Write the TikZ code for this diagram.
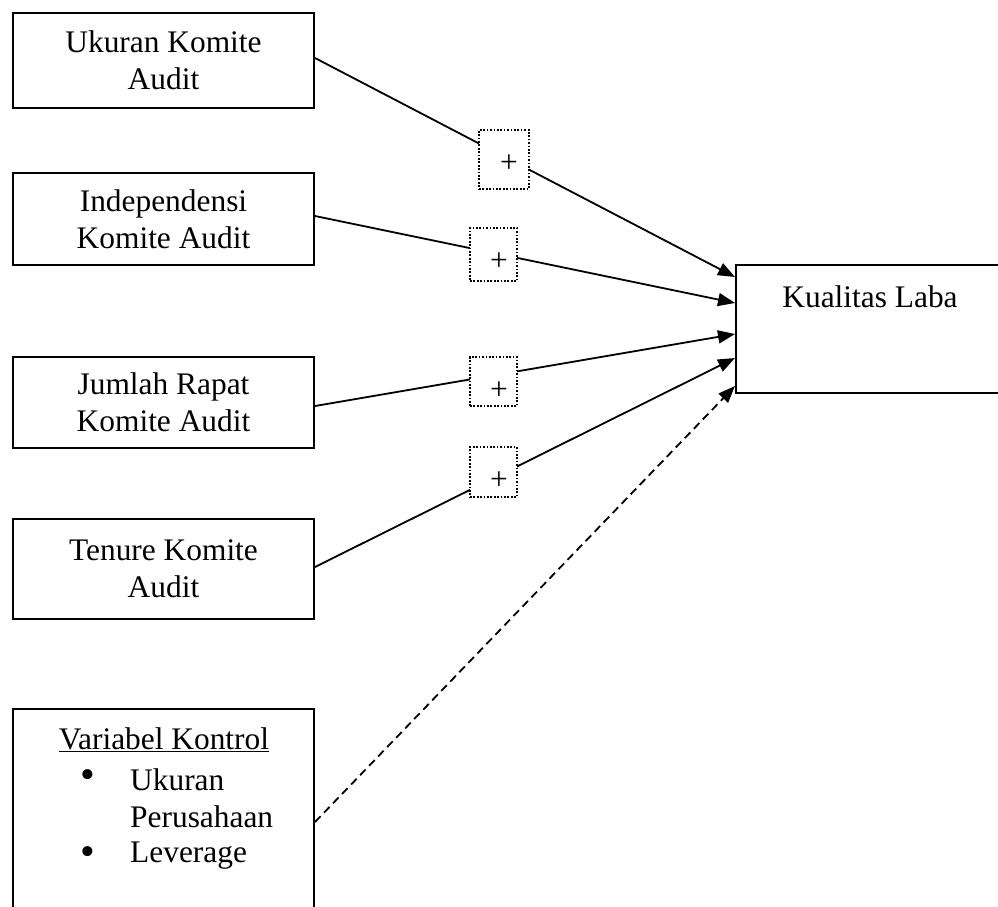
\documentclass[tikz,border=0pt]{standalone}
\usepackage{fontspec}
\setmainfont{Liberation Serif}
\usetikzlibrary{arrows.meta}
\tikzset{
  varbox/.style={draw, line width=2pt, minimum width=301pt, align=center, inner sep=0pt,
    font=\fontsize{31.4}{37}\selectfont},
  plusbox/.style={draw, fill=white, line width=1.5pt, dash pattern=on 1.7pt off 1.7pt, inner sep=0pt},
  plustext/.style={inner sep=0pt, font=\fontsize{31.4}{37}\selectfont},
  bullettext/.style={inner sep=0pt, font=\fontsize{42}{42}\selectfont},
  conn/.style={line width=1.8pt, -{Triangle[length=17pt,width=13pt]}},
  ctrl/.style={conn, dash pattern=on 8pt off 5pt}
}
\begin{document}
\begin{tikzpicture}[x=1pt,y=-1pt]
\useasboundingbox (0,0) rectangle (998,906);
\clip (0,0) rectangle (998,906);
% left variable boxes
\node[varbox, minimum height=95pt] (u1) at (163.5,60.5) {Ukuran Komite\\Audit};
\node[varbox, minimum height=92pt] (u2) at (163.5,219) {Independensi\\Komite Audit};
\node[varbox, minimum height=91pt] (u3) at (163.5,402.5) {Jumlah Rapat\\Komite Audit};
\node[varbox, minimum height=100pt] (u4) at (163.5,569) {Tenure Komite\\Audit};
\node[varbox, minimum height=240pt] (u5) at (163.5,829) {};
\node[plustext] (vk) at (164,740) {\underline{Variabel Kontrol}};
\node[bullettext] (b1) at (88,779) {•};
\node[plustext, anchor=west, align=left] (l1) at (130,798) {Ukuran\\Perusahaan};
\node[bullettext] (b2) at (88,856) {•};
\node[plustext, anchor=west] (l2) at (130,856) {Leverage};
% dependent box
\node[draw, line width=2pt, minimum width=268pt, minimum height=128pt, inner sep=0pt] (kl) at (870,329) {};
\node[plustext] (klt) at (870,297) {Kualitas Laba};
% connectors
\draw[conn] ([yshift=2.5pt]u1.east) -- ([yshift=-13pt]kl.north west);
\draw[conn] ([yshift=3pt]u2.east) -- ([yshift=-39pt]kl.north west);
\draw[conn] ([yshift=-3.5pt]u3.east) -- ([yshift=-70pt]kl.north west);
\draw[conn] ([yshift=2pt]u4.east) -- ([yshift=-94pt]kl.north west);
\draw[ctrl] ([yshift=7pt]u5.east) -- ([yshift=8pt]kl.south west);
% plus boxes
\node[plusbox, minimum width=50pt, minimum height=59pt] (pa) at (504,159.5) {};
\node[plustext] (pat) at (509,164) {+};
\node[plusbox, minimum width=47pt, minimum height=53pt] (pb) at (493.5,254.5) {};
\node[plustext] (pbt) at (499,262) {+};
\node[plusbox, minimum width=47pt, minimum height=49pt] (pc) at (493.5,381.5) {};
\node[plustext] (pct) at (499,391) {+};
\node[plusbox, minimum width=47pt, minimum height=50pt] (pd) at (493.5,472) {};
\node[plustext] (pdt) at (499,481) {+};
\end{tikzpicture}
\end{document}
